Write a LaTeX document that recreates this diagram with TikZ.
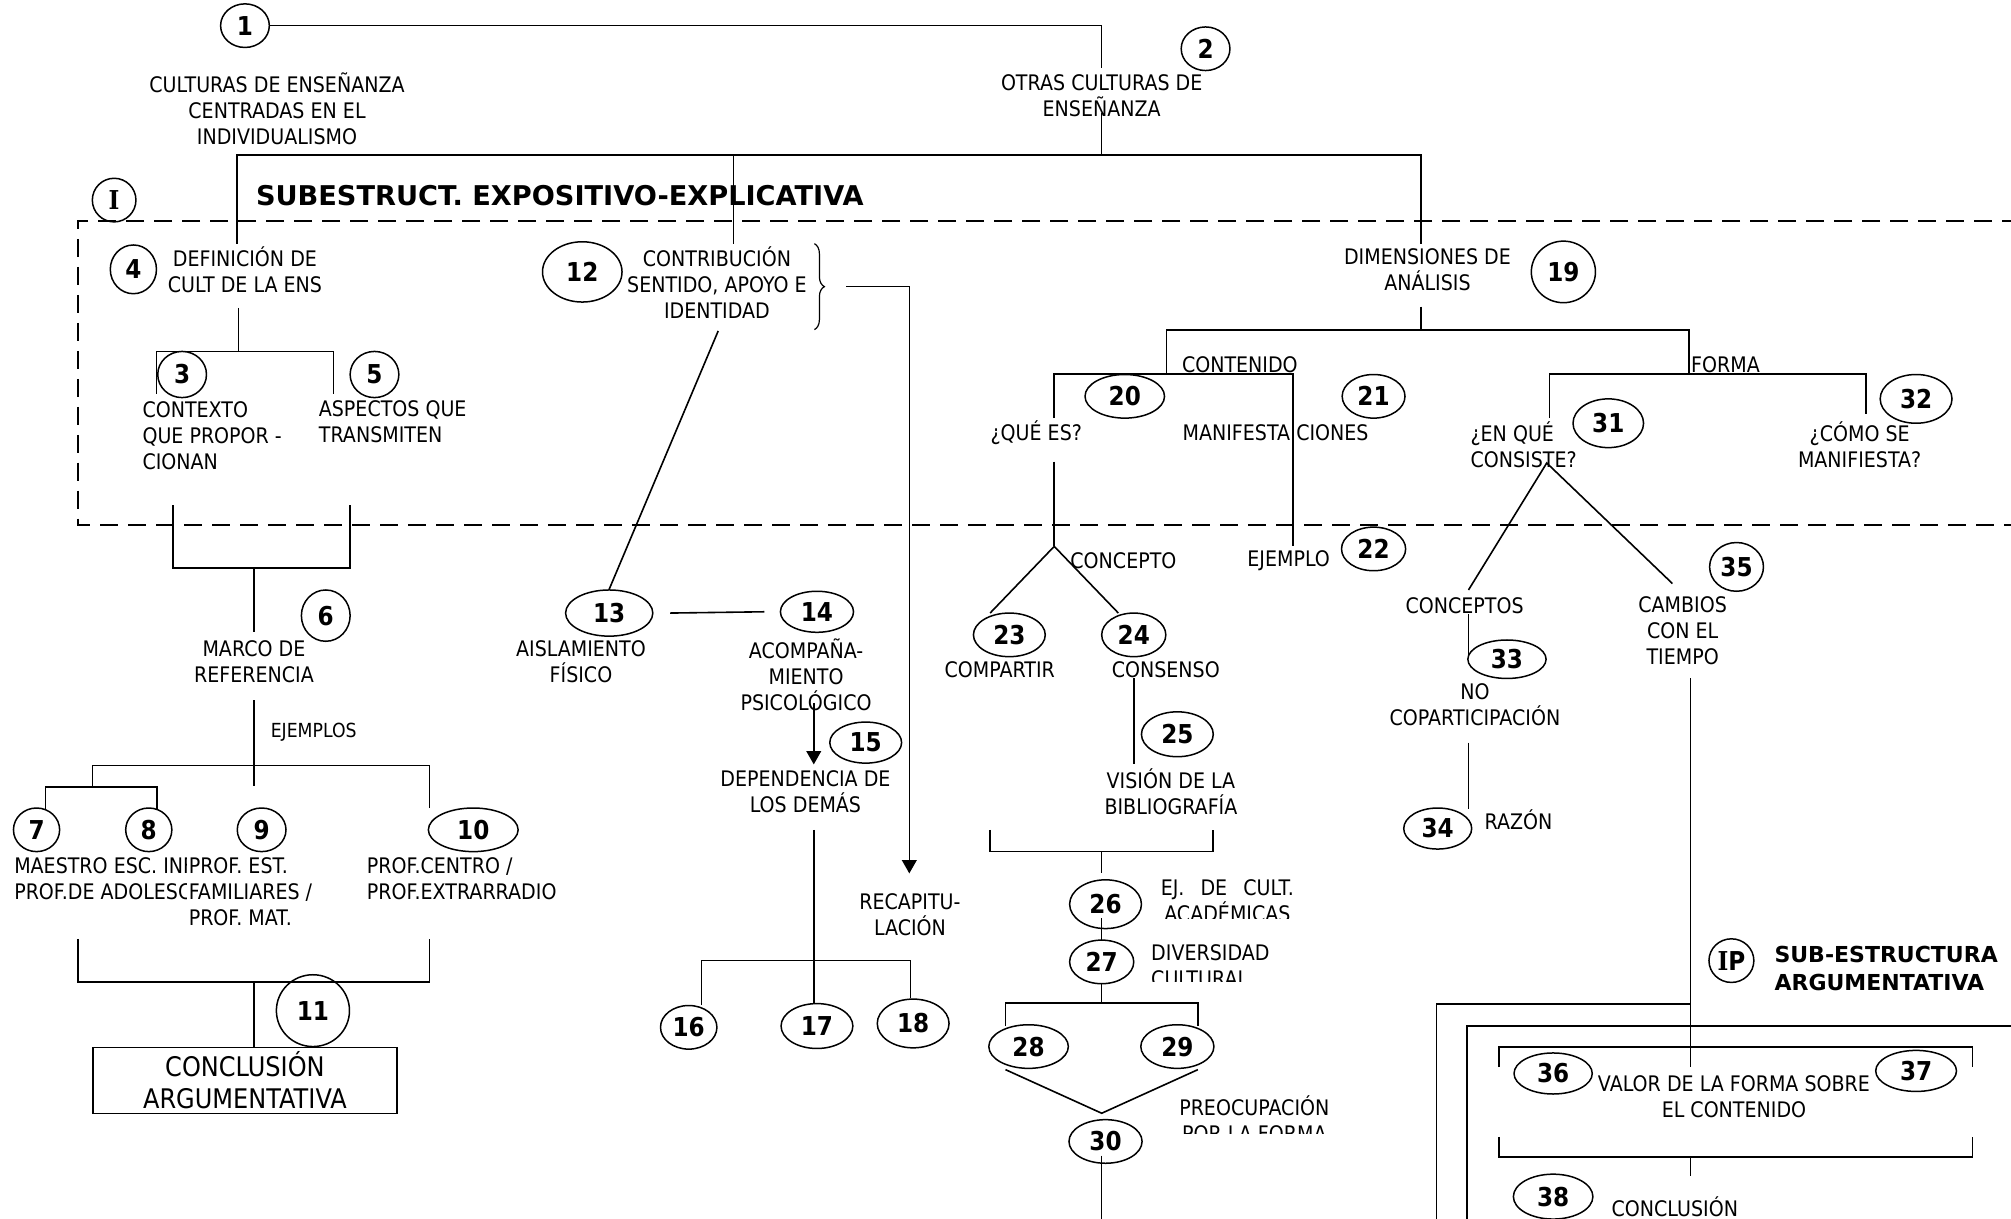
\documentclass[tikz,border=0pt]{standalone}
\usepackage{fontspec}
\setmainfont{DejaVu Sans}[FakeStretch=0.89]
\newfontfamily\hdfam{DejaVu Sans}
\newfontfamily\serfam{DejaVu Serif}[FakeStretch=0.89]
\usetikzlibrary{shapes.geometric,arrows.meta,decorations.pathreplacing,calc}

\newcommand\txf{\fontsize{10.7}{13}\selectfont}
\newcommand\smf{\fontsize{9.7}{11}\selectfont}
\newcommand\numf{\fontsize{13}{13}\selectfont\bfseries}
\newcommand\boxf{\fontsize{13.5}{16}\selectfont}

\begin{document}
\begin{tikzpicture}[x=0.6413pt,y=-0.6413pt,line width=0.8pt,
  num/.style 2 args={draw,ellipse,line width=0.75pt,inner sep=0pt,
    minimum width=#1*1.2826pt,minimum height=#2*1.2826pt,font=\numf},
  txt/.style={inner sep=0pt,align=center,font=\txf},
  ltxt/.style={inner sep=0pt,align=left,anchor=west,font=\txf},
  dsh/.style={dash pattern=on 9pt off 5pt,line width=1pt},
  arr/.style={-{Triangle[length=6.7pt,width=7.4pt]}},
  hdg/.style={inner sep=0pt,anchor=west,align=left,font=\hdfam\bfseries}]

\useasboundingbox (0,0) rectangle (1568,950);
\fill[white] (0,0) rectangle (1568,950);
\clip (0,0) rectangle (1568,950);

% ---------- top level ----------
\node[num={19}{17}] (n1) at (191,20) {1};
\node[num={19}{17}] (n2) at (940,38) {2};
\node[txt] (tcult) at (216,85) {CULTURAS DE ENSEÑANZA\\CENTRADAS EN EL\\INDIVIDUALISMO};
\node[txt] (totras) at (859,75) {OTRAS CULTURAS DE\\ENSEÑANZA};
\coordinate (j0) at (859,20);
\draw (n1.east) -- (j0) -- (859,53);
\draw (859,88) -- (859,121);
\coordinate (bl) at (185,121);
\coordinate (br) at (1108,121);
\draw (185,190) -- (bl) -- (br) -- (1108,190);
\draw (572,121) -- (572,190);

% ---------- expository substructure ----------
\node[num={17}{17},font=\numf\serfam] (nI) at (89,156) {I};
\node[hdg,font=\hdfam\bfseries\fontsize{13.6}{15}\selectfont] (hd1) at (199,152.5) {SUBESTRUCT. EXPOSITIVO-EXPLICATIVA};
\draw[dsh] (1575,172) -- (61,172) -- (61,409) -- (1575,409);

% definition branch
\node[num={18}{19}] (n4) at (104,210) {4};
\node[txt] (tdef) at (191,210.5) {DEFINICIÓN DE\\CULT DE LA ENS};
\draw (186,240) -- (186,274);
\draw (122,307) -- (122,274) -- (260,274) -- (260,307);
\node[num={19}{18}] (n3) at (142,292) {3};
\node[num={19}{18}] (n5) at (292,292) {5};
\node[ltxt] (tctx) at (110.5,339.5) {CONTEXTO\\QUE PROPOR -\\CIONAN};
\node[ltxt] (tasp) at (248,329) {ASPECTOS QUE\\TRANSMITEN};
\draw (135,394) -- (135,443) -- (273,443) -- (273,394);
\draw (198,443) -- (198,493);
\node[num={19}{20}] (n6) at (254,480) {6};
\node[txt] (tmarco) at (198,516) {MARCO DE\\REFERENCIA};
\draw (198,546) -- (198,613);
\node[inner sep=0pt,anchor=west,font=\smf] (tejm) at (210.5,571) {EJEMPLOS};
\draw (335,630) -- (335,597) -- (72,597) -- (72,613.5);
\draw (35.5,631) -- (35.5,613.5) -- (122.5,613.5) -- (122.5,631);
\node[ltxt] (tmae) at (10.5,685) {MAESTRO ESC. INF\\PROF.DE ADOLESC};
\node[ltxt,fill=white,inner xsep=1pt] (tprof) at (145,695) {PROF. EST.\\FAMILIARES /\\PROF. MAT.};
\node[ltxt] (tpc) at (285.5,685) {PROF.CENTRO /\\PROF.EXTRARRADIO};
\node[num={18}{17}] (n7) at (28.5,647) {7};
\node[num={18}{17}] (n8) at (116,647) {8};
\node[num={19}{17}] (n9) at (204,647) {9};
\node[num={35}{17}] (n10) at (369,647) {10};
\draw (61,732) -- (61,765.5) -- (335,765.5) -- (335,732);
\node[draw,line width=0.9pt,inner sep=0pt,minimum width=237.5*0.6413pt,
  minimum height=51.5*0.6413pt,align=center,font=\boxf] (concl) at (191,842.5)
  {CONCLUSIÓN\\ARGUMENTATIVA};
\draw (198,765.5) -- (concl.north -| 198,0);
\node[num={28.5}{28}] (n11) at (244,788) {11};

% contribution branch
\node[num={31}{23.5}] (n12) at (454,212) {12};
\node[txt] (tcontr) at (559,220.5) {CONTRIBUCIÓN\\SENTIDO, APOYO E\\IDENTIDAD};
\draw[decorate,decoration={brace,amplitude=5pt},line width=0.6pt] (635,190) -- (635,257);
\coordinate (rc) at (709,223.5);
\draw[arr] (660,223.5) -- (rc) -- (709,681);
\node[num={34}{18}] (n13) at (475,478) {13};
\node[num={28.5}{16}] (n14) at (637,477) {14};
\draw (560,258) -- (n13.north);
\draw ($(n13.east)+(13,0)$) -- ($(n14.west)+(-12,0)$);
\node[txt] (tais) at (453,516) {AISLAMIENTO\\FÍSICO};
\node[txt] (tacomp) at (628.5,526) {ACOMPAÑA-\\MIENTO\\PSICOLÓGICO};
\draw[arr] (634.5,548) -- (634.5,596);
\node[num={28}{16}] (n15) at (675,579) {15};
\node[txt] (tdep) at (628,617.5) {DEPENDENCIA DE\\LOS DEMÁS};
\node[num={22}{17}] (n16) at (537,801) {16};
\node[num={28}{17.5}] (n17) at (637,800) {17};
\node[num={28}{19}] (n18) at (712,798) {18};
\draw (634.5,647) -- (n17.north -| 634.5,0);
\draw (n16.north -| 547,0) -- (547,749) -- (710,749) -- (n18.north -| 710,0);
\node[txt] (trec) at (709.5,713.5) {RECAPITU-\\LACIÓN};

% dimensions branch
\node[txt] (tdim) at (1113,210.5) {DIMENSIONES DE\\ANÁLISIS};
\node[num={25}{24}] (n19) at (1219,212) {19};
\draw (1108,239) -- (1108,257.5);
\draw (909.5,291.5) -- (909.5,257.5) -- (1317,257.5) -- (1317,291.5);
\node[inner sep=0pt,anchor=base west,font=\txf] (tcont) at (921,290.5) {CONTENIDO};
\node[inner sep=0pt,anchor=base west,font=\txf] (tforma) at (1318,290.5) {FORMA};
\draw (822,326) -- (822,291.5) -- (1008,291.5) -- (1008,426);
\draw (1208,326) -- (1208,291.5) -- (1455,291.5) -- (1455,323);
\node[num={31}{17}] (n20) at (877,309) {20};
\node[num={24.5}{17}] (n21) at (1071,309) {21};
\node[txt] (tque) at (808,337) {¿QUÉ ES?};
\node[ltxt] (tmanif) at (921.5,337) {MANIFESTA CIONES};
\node[num={27.5}{19}] (n31) at (1254,330) {31};
\node[ltxt] (tenque) at (1146,347) {¿EN QUÉ\\CONSISTE?};
\node[num={28}{19}] (n32) at (1494,311) {32};
\node[txt] (tcomo) at (1450,347) {¿CÓMO SE\\MANIFIESTA?};

% content: what is it
\coordinate (qa) at (822,426);
\draw (822,360) -- (qa);
\draw (772,478) -- (qa) -- (872,478);
\node[ltxt] (tconc) at (834,437) {CONCEPTO};
\node[ltxt] (tejp) at (972,437) {EJEMPLO};
\node[num={25}{17}] (n22) at (1071,428) {22};
\node[num={28}{17}] (n23) at (787,495) {23};
\node[num={25}{17}] (n24) at (884,495) {24};
\node[txt] (tcomp) at (779.5,522.5) {COMPARTIR};
\node[txt] (tcons) at (909,522.5) {CONSENSO};
\draw (884,529) -- (884,596);
\node[num={28}{17.5}] (n25) at (918,572.5) {25};
\node[txt] (tvis) at (913,617.5) {VISIÓN DE LA\\BIBLIOGRAFÍA};
\draw (772,647) -- (772,664) -- (946,664) -- (946,647);
\draw (859,664) -- (859,681);
\node[num={28}{19}] (n26) at (862,705) {26};
\draw (859,716) -- (859,733);
\node[num={25}{17}] (n27) at (859,750) {27};
\draw (859,767) -- (859,782);
\draw (784,800) -- (784,782) -- (934,782) -- (934,800);
\node[num={31}{17}] (n28) at (802,816) {28};
\node[num={28.5}{17}] (n29) at (918,816) {29};
\coordinate (va) at (859,868);
\draw (784,834) -- (va) -- (934,834);
\node[num={28.5}{17}] (n30) at (862,890) {30};
\draw (859,901) -- (859,955);
\begin{scope}
  \clip (880,670) rectangle (1070,716);
  \node[txt] (tacad) at (957,702.5) {EJ.\hspace{0.75em}DE\hspace{0.75em}CULT.\\ACADÉMICAS};
\end{scope}
\begin{scope}
  \clip (880,725) rectangle (1070,765.5);
  \node[ltxt] (tdiv) at (897,753) {DIVERSIDAD\\CULTURAL};
\end{scope}
\begin{scope}
  \clip (900,840) rectangle (1070,884);
  \node[txt] (tpre) at (978,872) {PREOCUPACIÓN\\POR LA FORMA};
\end{scope}

% form: what does it consist of
\coordinate (ca) at (1206,361);
\draw (1145,460) -- (ca) -- (1304,455);
\node[txt] (tconcs) at (1142,472) {CONCEPTOS};
\draw (1145,479) -- (1145,512);
\node[num={30.5}{15}] (n33) at (1175,514) {33};
\node[txt] (tnoc) at (1150,549.5) {NO\\COPARTICIPACIÓN};
\draw (1145,579) -- (1145,631);
\node[num={26.5}{16}] (n34) at (1121,646) {34};
\node[ltxt] (traz) at (1157,639) {RAZÓN};
\node[num={21}{19}] (n35) at (1354,442) {35};
\node[txt] (tcamb) at (1312,492) {CAMBIOS\\CON EL\\TIEMPO};
\draw (1318,529) -- (1318,832);

% argumentative substructure
\node[num={17.5}{17}] (nIP) at (1350,749) {{\serfam I}P};
\node[hdg,font=\hdfam\bfseries\fontsize{11}{14.1}\selectfont] (hd2) at (1383,755) {SUB-ESTRUCTURA\\ARGUMENTATIVA};
\draw (1318,783) -- (1120,783) -- (1120,960);
\draw (1575,800) -- (1144,800) -- (1144,960);
\draw (1169,832) -- (1169,816.5) -- (1538,816.5) -- (1538,832);
\draw (1169,886.5) -- (1169,902) -- (1538,902) -- (1538,886.5);
\draw (1318,902) -- (1318,917);
\node[num={30.5}{16}] (n36) at (1211,837) {36};
\node[num={31.5}{16}] (n37) at (1494,835) {37};
\node[txt] (tval) at (1352,855) {VALOR DE LA FORMA SOBRE\\EL CONTENIDO};
\node[num={31}{17.5}] (n38) at (1211,933) {38};
\node[ltxt] (tcon2) at (1256,941) {CONCLUSIÓN};

\end{tikzpicture}
\end{document}
